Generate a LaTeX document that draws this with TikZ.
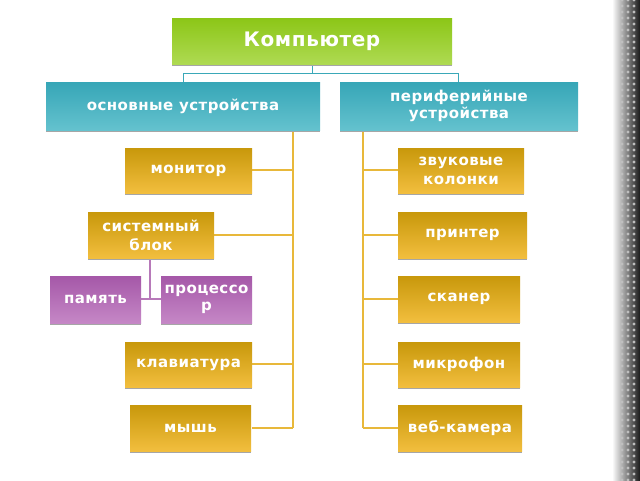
\documentclass[tikz,border=0pt]{standalone}
\usepackage{fontspec}
\setmainfont{DejaVu Sans}[LetterSpace=3]
\usetikzlibrary{shadows}
\definecolor{gtop}{HTML}{8CC617}\definecolor{gbot}{HTML}{AEDA52}
\definecolor{ttop}{HTML}{36A6B7}\definecolor{tbot}{HTML}{64C2CE}
\definecolor{otop}{HTML}{C8980B}\definecolor{obot}{HTML}{F2BE3E}
\definecolor{ptop}{HTML}{A558A8}\definecolor{pbot}{HTML}{C587C6}
\definecolor{oline}{HTML}{E8B83A}\definecolor{tline}{HTML}{3AA8B8}
\tikzset{
 bx/.style={inner sep=0pt,text=white,font=\bfseries\fontsize{15}{17}\selectfont,align=center,
   drop shadow={shadow xshift=0pt,shadow yshift=-1.5pt,fill=black!35,opacity=1}},
 gold/.style={bx,top color=otop,bottom color=obot},
 purp/.style={bx,top color=ptop,bottom color=pbot},
 teal/.style={bx,top color=ttop,bottom color=tbot},
 ol/.style={draw=oline,line width=1.2pt},
 pl/.style={draw=ptop!80,line width=1.2pt},
}
\newcommand{\bxat}[6]{\node[#1,minimum width=#4-#2,minimum height=#5-#3] (#6) at ({(#2+#4)/2},{(#3+#5)/2})}
\begin{document}
\begin{tikzpicture}[x=1pt,y=-1pt]
\useasboundingbox (0,0) rectangle (640,480);
\fill[white] (0,0) rectangle (640,480);
\shade[left color=white,right color=black!90] (612,0) rectangle (640,480);
\foreach \yy in {0,6,...,480}{\foreach \xx in {622,628,634}{\fill[white!50!gray] (\xx,\yy) circle (1.6pt);}}
% connectors
\draw[tline,line width=1pt] (312,64) -- (312,73) -- (183,73) -- (183,82);
\draw[tline,line width=1pt] (312,73) -- (458,73) -- (458,82);
\draw[ol] (293,130) -- (293,428);
\draw[ol] (363,130) -- (363,428);
\foreach \yy in {170,235,364,428}{\draw[ol] (252,\yy) -- (293,\yy);}
\draw[ol] (214,235) -- (293,235);
\foreach \yy in {170,235,299,364,428}{\draw[ol] (363,\yy) -- (398,\yy);}
\draw[pl] (150,258) -- (150,299); \draw[pl] (141,299) -- (161,299);
% boxes
\bxat{bx,top color=gtop,bottom color=gbot,font=\bfseries\fontsize{20}{21}\selectfont}{172}{18}{452}{64}{k} {Компьютер};
\bxat{teal}{46}{82}{320}{130}{o} {основные устройства};
\bxat{teal}{340}{82}{578}{130}{p} {периферийные\\устройства};
\bxat{gold}{125}{148}{252}{193}{mon} {монитор};
\bxat{gold}{88}{212}{214}{258}{sb} {системный\\[2pt]блок};
\bxat{purp}{50}{276}{141}{323}{mem} {память};
\bxat{purp}{161}{276}{252}{323}{cpu} {процессо\\р};
\bxat{gold}{125}{342}{252}{387}{kb} {клавиатура};
\bxat{gold}{130}{405}{251}{451}{ms} {мышь};
\bxat{gold}{398}{148}{524}{193}{sp} {звуковые\\[2pt]колонки};
\bxat{gold}{398}{212}{527}{258}{pr} {принтер};
\bxat{gold}{398}{276}{520}{322}{sc} {сканер};
\bxat{gold}{398}{342}{520}{387}{mic} {микрофон};
\bxat{gold}{398}{405}{522}{451}{cam} {веб-камера};
\end{tikzpicture}
\end{document}
